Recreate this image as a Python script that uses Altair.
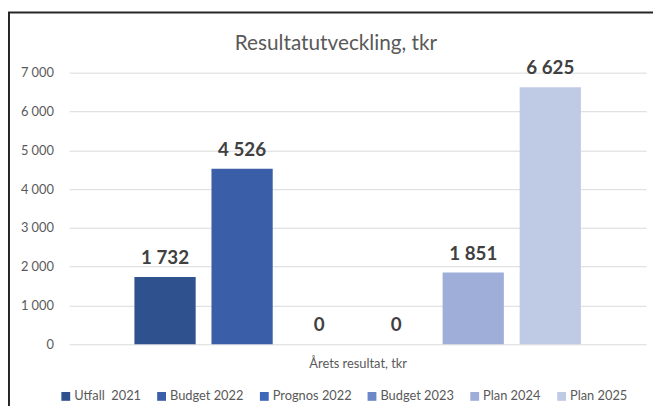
import altair as alt
import pandas as pd

series = ["Utfall \u00a02021", "Budget 2022", "Prognos 2022", "Budget 2023", "Plan 2024", "Plan 2025"]
values = [1732, 4526, 0, 0, 1851, 6625]
colors = ["#2F528F", "#3A5FA8", "#3F68BA", "#6C88C9", "#9FAED8", "#BFCAE5"]
y_ticks = [0, 1000, 2000, 3000, 4000, 5000, 6000, 7000]
title_text = ["Resultatutveckling, tkr"]

df = pd.DataFrame({"serie": series, "varde": values})
df_title = pd.DataFrame({"t": title_text})

FONT = "Lato"
GREY = "#595959"

x_enc = alt.X(
    "serie:N",
    sort=series,
    scale=alt.Scale(paddingInner=0.205, paddingOuter=0.846),
    axis=alt.Axis(labels=False, ticks=False, domain=False, grid=False, title="Årets resultat, tkr",
                  titleFont=FONT, titleFontSize=13, titleFontWeight="normal", titleColor=GREY,
                  titlePadding=14),
)
y_axis = alt.Axis(values=y_ticks, title=None, ticks=False, domain=False,
                  labelExpr="replace(format(datum.value, ',d'), ',', ' ')",
                  labelFont=FONT, labelFontSize=13, labelColor=GREY, labelPadding=16,
                  gridColor="#D9D9D9", gridWidth=1)
y_scale = alt.Scale(domain=[0, 7000], nice=False)
y_enc = alt.Y("varde:Q", scale=y_scale, axis=y_axis)

bars = alt.Chart(df).mark_bar().encode(
    x=x_enc,
    y=y_enc,
    color=alt.Color(
        "serie:N",
        sort=series,
        scale=alt.Scale(domain=series, range=colors),
        legend=alt.Legend(
            title=None, orient="none", direction="horizontal", legendX=-10, legendY=321,
            symbolType="square", symbolSize=80, symbolStrokeWidth=0,
            labelFont=FONT, labelFontSize=13, labelColor=GREY, columnPadding=14,
            symbolOffset=0, labelOffset=2,
        ),
    ),
)

labels = alt.Chart(df).transform_calculate(
    lbl="replace(format(datum.varde, ',d'), ',', ' ')"
).mark_text(
    font=FONT, fontSize=19, fontWeight="bold", color="#404040", baseline="bottom", dy=-9
).encode(
    x=x_enc,
    y=y_enc,
    text="lbl:N",
)

title = alt.Chart(df_title).mark_text(
    font=FONT, fontSize=21, color=GREY, baseline="alphabetic", align="center"
).encode(
    x=alt.value(270), y=alt.value(-23), text="t:N"
)

frame_top = alt.Chart(df_title).mark_rule(color="#262626", strokeWidth=2).encode(
    x=alt.value(-62), x2=alt.value(600), y=alt.value(-61)
)
frame_left = alt.Chart(df_title).mark_rule(color="#262626", strokeWidth=2).encode(
    x=alt.value(-61), y=alt.value(-61), y2=alt.value(340)
)

chart = alt.layer(bars, labels, title, frame_top, frame_left).properties(
    width=584,
    height=275,
    autosize=alt.AutoSizeParams(type="none"),
    padding={"left": 62, "top": 63, "right": 7, "bottom": 60},
).configure(background="white").configure_view(stroke=None)

chart.save("out.html", embed_options={"renderer": "svg", "actions": False})
